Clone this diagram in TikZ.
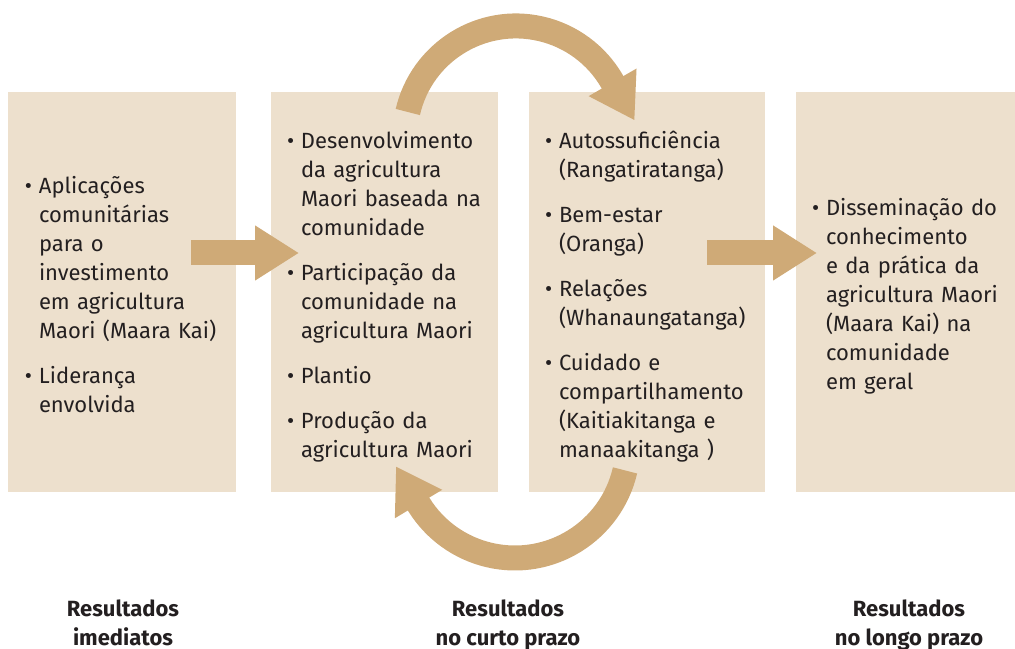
\documentclass[tikz,border=0pt]{standalone}
\usepackage{fontspec}
\setmainfont{Fira Sans}
\usepackage{tikz}
\usetikzlibrary{arrows.meta}
\definecolor{sand}{RGB}{237,224,205}
\definecolor{caramel}{RGB}{207,170,119}
\definecolor{ink}{RGB}{35,31,32}
\newcommand{\bul}{\textbullet}

\begin{document}
\begin{tikzpicture}[x=0.5pt,y=0.5pt,
  panel/.style={fill=sand,minimum height=200pt,inner xsep=8pt,inner ysep=0pt,
    align=left,text=ink,font=\fontsize{11}{14.5}\selectfont},
  flow/.style={draw=caramel,line width=12.5pt,-{Triangle[length=22pt,width=26pt]}},
  stage/.style={align=center,anchor=north,text=ink,font=\fontsize{11}{14.5}\selectfont\bfseries}]
\useasboundingbox (0,0) rectangle (1015,648);

\node (imediatos) at (122,356) [panel,minimum width=114pt,text width=97pt]{%
\begin{tabular}{@{}p{7pt}@{}l@{}}\noalign{\vspace{5pt}}
\bul & Aplicações\\
& comunitárias\\
& para o\\
& investimento\\
& em agricultura\\
& Maori (Maara Kai)\\[8pt]
\bul & Liderança\\
& envolvida
\end{tabular}};
\node (curto1) at (384.5,356) [panel,minimum width=113.5pt,text width=97.5pt]{%
\begin{tabular}{@{}p{7pt}@{}l@{}}\noalign{\vspace{5pt}}
\bul & Desenvolvimento\\
& da agricultura\\
& Maori baseada na\\
& comunidade\\[8pt]
\bul & Participação da\\
& comunidade na\\
& agricultura Maori\\[8pt]
\bul & Plantio\\[8pt]
\bul & Produção da\\
& agricultura Maori
\end{tabular}};
\node (curto2) at (647,356) [panel,minimum width=118pt,text width=102pt]{%
\begin{tabular}{@{}p{7pt}@{}l@{}}\noalign{\vspace{5pt}}
\bul & Autossuficiência\\
& (Rangatiratanga)\\[8pt]
\bul & Bem-estar\\
& (Oranga)\\[8pt]
\bul & Relações\\
& (Whanaungatanga)\\[8pt]
\bul & Cuidado e\\
& compartilhamento\\
& (Kaitiakitanga e\\
& manaakitanga )
\end{tabular}};
\node (longo) at (905.5,356) [panel,minimum width=109.5pt,text width=93.5pt]{%
\begin{tabular}{@{}p{7pt}@{}l@{}}\noalign{\vspace{5pt}}
\bul & Disseminação do\\
& conhecimento\\
& e da prática da\\
& agricultura Maori\\
& (Maara Kai) na\\
& comunidade\\
& em geral
\end{tabular}};

% setas
\coordinate (s1) at (191,395);
\coordinate (t1) at (299,395);
\coordinate (s2) at (707,395);
\coordinate (t2) at (817,395);
\coordinate (ciclo1) at (407.8,536);
\coordinate (ciclo2) at (625,177.6);
\draw[flow] (s1) -- (t1);
\draw[flow] (s2) -- (t2);
\draw[flow] (ciclo1) arc[start angle=167,end angle=30,radius=111] -- ++(-60:45);
\draw[flow] (ciclo2) arc[start angle=-13,end angle=-148,radius=113] -- ++(121:45);

\node (r1) at (123,55) [stage]{Resultados\\imediatos};
\node (r2) at (508,55) [stage]{Resultados\\no curto prazo};
\node (r3) at (909,55) [stage]{Resultados\\no longo prazo};
\end{tikzpicture}
\end{document}
